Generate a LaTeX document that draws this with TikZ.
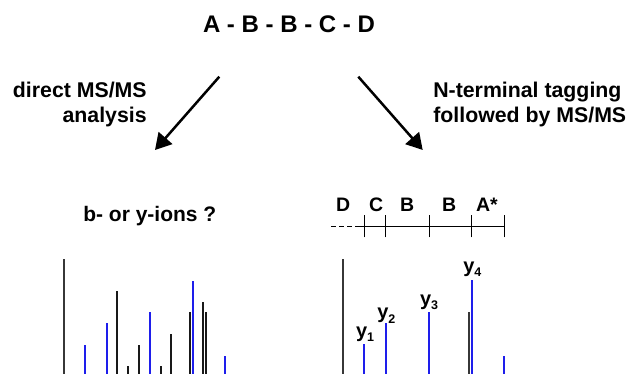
\documentclass[tikz,border=0pt]{standalone}
\usepackage{fontspec}
\setmainfont{Liberation Sans}
\usetikzlibrary{arrows.meta}
\definecolor{peakblue}{RGB}{30,30,235}
\definecolor{peakblack}{RGB}{25,25,25}
\definecolor{axisgray}{RGB}{55,55,55}
\begin{document}
\begin{tikzpicture}[x=1pt,y=-1pt,
  txt/.style={inner sep=0pt, outer sep=0pt, font=\bfseries\fontsize{21.3}{25}\selectfont},
  ttl/.style={inner sep=0pt, outer sep=0pt, font=\bfseries\fontsize{24}{28}\selectfont},
  hdr/.style={inner sep=0pt, outer sep=0pt, font=\bfseries\fontsize{21}{24}\selectfont},
  res/.style={inner sep=0pt, outer sep=0pt, font=\bfseries\fontsize{19.5}{24}\selectfont},
  ylab/.style={inner sep=0pt, outer sep=0pt, font=\bfseries\fontsize{20}{24}\selectfont},
  bigarrow/.style={line width=2.5pt, -{Triangle[length=16pt,width=18pt]}},
  rulerline/.style={line width=1pt, black},
  bluepeak/.style={line width=2pt, peakblue},
  blackpeak/.style={line width=2.2pt, peakblack},
  axisline/.style={line width=2.2pt, axisgray}]
\useasboundingbox (0,0) rectangle (628,374);

% title
\node[ttl, anchor=base] (title) at (289,33) {A - B - B - C - D};

% arrows
\coordinate (la1) at (219.3,76.7);
\coordinate (la2) at (155,150);
\coordinate (ra1) at (358.3,76.7);
\coordinate (ra2) at (422.7,150);
\draw[bigarrow] (la1) -- (la2);
\draw[bigarrow] (ra1) -- (ra2);

% arrow labels
\node[txt, align=right, anchor=north east] (direct) at (146.7,82.5) {direct MS/MS\\analysis};
\node[txt, align=left, anchor=north west] (tagging) at (433.3,82.5) {N-terminal tagging\\followed by MS/MS};

% left header
\node[hdr, anchor=base west] (question) at (83.3,221.7) {b- or y-ions ?};

% residue labels
\node[res, anchor=base west] (rD) at (336,211.7) {D};
\node[res, anchor=base west] (rC) at (369,211.7) {C};
\node[res, anchor=base west] (rB1) at (400,211.7) {B};
\node[res, anchor=base west] (rB2) at (442,211.7) {B};
\node[res, anchor=base west] (rA) at (476,211.7) {A*};

% ruler
\coordinate (r0) at (331,226.7);
\coordinate (r1) at (364,226.7);
\coordinate (r2) at (385.7,226.7);
\coordinate (r3) at (429,226.7);
\coordinate (r4) at (471.7,226.7);
\coordinate (r5) at (504,226.7);
\draw[rulerline, dash pattern=on 5pt off 3pt] (r0) -- (357,226.7);
\draw[rulerline] (357,226.7) -- (r5);
\foreach \t in {r1,r2,r3,r4,r5}
  \draw[rulerline] ([yshift=-10.7pt]\t) -- ([yshift=11.3pt]\t);

% left spectrum
\draw[axisline] (64,374) -- (64,259);
\foreach \x/\h in {85.3/345, 106.7/323, 150/312, 192.7/280.7, 225/355.7}
  \draw[bluepeak] (\x,374) -- (\x,\h);
\foreach \x/\h in {117.3/291, 128.3/366, 139.3/345, 160.7/366, 171.3/334, 190/312, 203.3/301.7, 206/312}
  \draw[blackpeak] (\x,374) -- (\x,\h);

% right spectrum
\draw[axisline] (343,374) -- (343,259);
\draw[line width=2.5pt, axisgray] (469,374) -- (469,312);
\foreach \x/\h in {364/344, 385.7/323, 429/312, 471.7/280, 504/355.7}
  \draw[bluepeak] (\x,374) -- (\x,\h);

% ion labels
\newcommand{\ionsub}[1]{\raisebox{-4.5pt}{\fontsize{12.5}{14}\selectfont #1}}
\node[ylab, anchor=base west] (y1) at (356,337) {y\ionsub{1}};
\node[ylab, anchor=base west] (y2) at (377.3,318.7) {y\ionsub{2}};
\node[ylab, anchor=base west] (y3) at (420,305.4) {y\ionsub{3}};
\node[ylab, anchor=base west] (y4) at (463.3,272) {y\ionsub{4}};
\end{tikzpicture}
\end{document}
